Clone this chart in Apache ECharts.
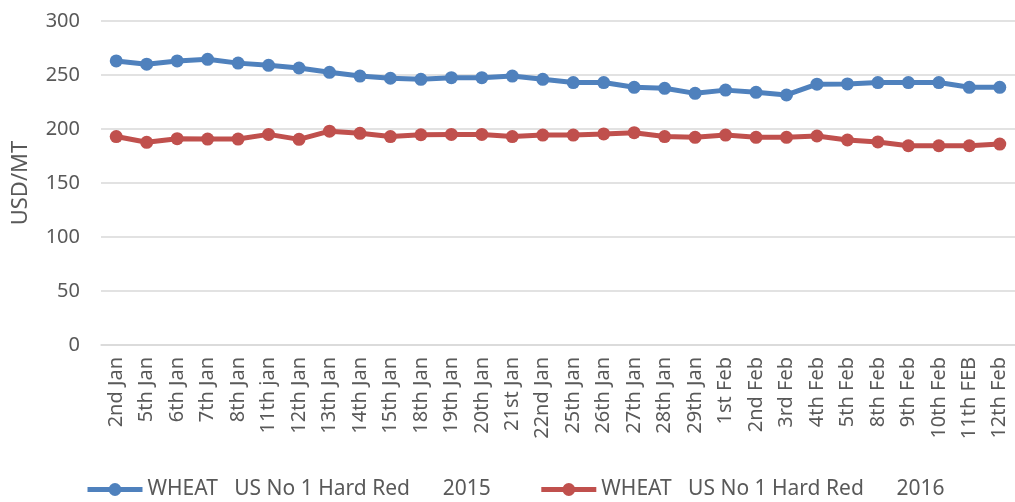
<!DOCTYPE html>
<html lang="en">
<head>
    <meta charset="UTF-8">
    <title>Wheat prices</title>
    <script src="https://cdn.jsdelivr.net/npm/echarts@6/dist/echarts.min.js"></script>
</head>
<body style="margin:0">
<div id="main" style="width:1015px;height:502px"></div>
<script>
    var dates = ['2nd Jan', '5th Jan', '6th Jan', '7th Jan', '8th Jan', '11th jan', '12th Jan', '13th Jan',
        '14th Jan', '15th Jan', '18th Jan', '19th Jan', '20th Jan', '21st Jan', '22nd Jan', '25th Jan',
        '26th Jan', '27th Jan', '28th Jan', '29th Jan', '1st Feb', '2nd Feb', '3rd Feb', '4th Feb',
        '5th Feb', '8th Feb', '9th Feb', '10th Feb', '11th FEB', '12th Feb'];

    var wheat2015 = [263, 260, 263, 264.5, 261, 259, 256.5, 252.5, 249, 247, 246, 247.5, 247.5, 249, 246, 243,
        243, 238.6, 237.7, 233, 236, 234, 231.5, 241.5, 241.7, 243, 243, 243, 238.6, 238.6];

    var wheat2016 = [193, 187.7, 191, 190.7, 190.7, 195, 190.4, 198, 196, 193, 194.7, 195, 195, 193, 194.4, 194.4,
        195.4, 196.6, 193, 192.3, 194.4, 192.3, 192.3, 193.5, 189.8, 188, 184.5, 184.5, 184.5, 186];

    var yTicks = [0, 50, 100, 150, 200, 250, 300];

    var seriesNames = ['WHEAT   US No 1 Hard Red      2015', 'WHEAT   US No 1 Hard Red      2016'];

    var font = 'Noto Sans';
    var myChart = echarts.init(document.getElementById('main'));

    var option = {
        backgroundColor: '#fff',
        color: ['#4F81BD', '#C0504D'],
        animation: false,
        grid: {
            left: 101,
            right: -5,
            top: 21,
            bottom: 157
        },
        legend: {
            top: 474,
            left: 80,
            itemGap: 48,
            itemWidth: 55,
            itemHeight: 16,
            lineStyle: {width: 5},
            textStyle: {
                fontFamily: font,
                fontSize: 21,
                color: '#595959'
            },
            data: seriesNames
        },
        xAxis: {
            type: 'category',
            data: dates,
            boundaryGap: true,
            axisLine: {lineStyle: {color: '#d9d9d9', width: 1.5}},
            axisTick: {show: false},
            axisLabel: {
                rotate: 90,
                margin: 12,
                interval: 0,
                fontFamily: font,
                fontSize: 20,
                color: '#595959'
            }
        },
        yAxis: {
            type: 'value',
            min: yTicks[0],
            max: yTicks[yTicks.length - 1],
            interval: 50,
            name: 'USD/MT',
            nameLocation: 'middle',
            nameGap: 69,
            nameTextStyle: {
                fontFamily: font,
                fontSize: 22,
                color: '#595959'
            },
            axisLine: {show: false},
            axisTick: {show: false},
            axisLabel: {
                margin: 21,
                fontFamily: font,
                fontSize: 20,
                color: '#595959'
            },
            splitLine: {lineStyle: {color: '#d9d9d9', width: 1.5}}
        },
        series: [
            {
                name: seriesNames[0],
                type: 'line',
                data: wheat2015,
                symbol: 'circle',
                symbolSize: 13,
                lineStyle: {width: 5}
            },
            {
                name: seriesNames[1],
                type: 'line',
                data: wheat2016,
                symbol: 'circle',
                symbolSize: 13,
                lineStyle: {width: 5}
            }
        ]
    };

    myChart.setOption(option);
</script>
</body>
</html>
